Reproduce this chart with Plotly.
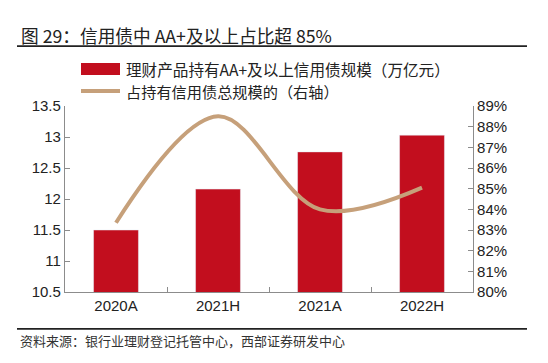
import plotly.graph_objects as go

categories = ["2020A", "2021H", "2021A", "2022H"]
scale_values = [11.5, 12.16, 12.76, 13.03]          # 万亿元
share_values = [83.35, 88.5, 84.0, 85.05]           # %
left_ticks = [10.5, 11, 11.5, 12, 12.5, 13, 13.5]
right_ticks = [80, 81, 82, 83, 84, 85, 86, 87, 88, 89]
right_tick_labels = ["80%", "81%", "82%", "83%", "84%", "85%", "86%", "87%", "88%", "89%"]

title_text = "图 29：信用债中 AA+及以上占比超 85%"
legend_bar = "理财产品持有AA+及以上信用债规模（万亿元）"
legend_line = "占持有信用债总规模的（右轴）"
source_text = "资料来源：银行业理财登记托管中心，西部证券研发中心"

OFF = 8  # page body margin
W, H = 548, 363
L, R, T, B = 65, 473, 106, 292.5

BAR_COLOR = "#C20E1E"
LINE_COLOR = "#C6A07A"
AXIS_COLOR = "#8C8C8C"
FONT = "Liberation Sans, Arial, Noto Sans CJK SC, sans-serif"
CJK = "Noto Sans CJK SC, sans-serif"


def px(x):
    return (x - L) / (R - L)


def py(y):
    return (B - y) / (B - T)


fig = go.Figure()
fig.add_trace(go.Bar(x=categories, y=scale_values, marker_color=BAR_COLOR,
                     width=0.44, showlegend=False, yaxis="y"))
fig.add_trace(go.Scatter(x=categories, y=share_values, mode="lines",
                         line=dict(color=LINE_COLOR, width=4, shape="spline", smoothing=1.0),
                         showlegend=False, yaxis="y2"))

fig.update_layout(
    width=W - OFF, height=H - OFF,
    margin=dict(l=L - OFF, r=W - R, t=T - OFF, b=H - B, autoexpand=False),
    paper_bgcolor="white", plot_bgcolor="white",
    font=dict(family=FONT, size=15, color="#222"),
    xaxis=dict(type="category", showline=True, linecolor=AXIS_COLOR, linewidth=1.2,
               ticks="inside", ticklen=5, tickcolor=AXIS_COLOR, tickson="boundaries",
               showgrid=False, tickfont=dict(size=15, family=FONT, color="#222"),
               range=[-0.5, 3.5]),
    yaxis=dict(range=[10.5, 13.5], tickvals=left_ticks, showline=True, linecolor=AXIS_COLOR,
               linewidth=1.2, ticks="inside", ticklen=5, tickcolor=AXIS_COLOR, showgrid=False,
               zeroline=False, tickfont=dict(size=15, family=FONT, color="#222")),
    yaxis2=dict(range=[80, 89], tickvals=right_ticks, ticktext=right_tick_labels,
                overlaying="y", side="right", showline=True, linecolor=AXIS_COLOR,
                linewidth=1.2, ticks="inside", ticklen=5, tickcolor=AXIS_COLOR,
                showgrid=False, zeroline=False,
                tickfont=dict(size=15, family=FONT, color="#222")),
    bargap=0.56,
)

shapes = []
annotations = []
# title and rules
annotations.append(dict(text=title_text, xref="paper", yref="paper", x=px(19), y=py(35),
                        xanchor="left", yanchor="middle", showarrow=False,
                        font=dict(size=17.7, family=CJK, color="#222")))
shapes.append(dict(type="line", xref="paper", yref="paper", x0=px(17), x1=px(527),
                   y0=py(46), y1=py(46), line=dict(color="#222", width=1.6)))
shapes.append(dict(type="line", xref="paper", yref="paper", x0=px(17), x1=px(527),
                   y0=py(329.5), y1=py(329.5), line=dict(color="#222", width=1.6)))
annotations.append(dict(text=source_text, xref="paper", yref="paper", x=px(18), y=py(341),
                        xanchor="left", yanchor="middle", showarrow=False,
                        font=dict(size=13, family=CJK, color="#333")))
# legend
shapes.append(dict(type="rect", xref="paper", yref="paper", x0=px(81), x1=px(120),
                   y0=py(75), y1=py(63), fillcolor=BAR_COLOR, line=dict(width=0)))
annotations.append(dict(text=legend_bar, xref="paper", yref="paper", x=px(124), y=py(69),
                        xanchor="left", yanchor="middle", showarrow=False,
                        font=dict(size=15.6, family=CJK, color="#222")))
shapes.append(dict(type="line", xref="paper", yref="paper", x0=px(81), x1=px(120),
                   y0=py(91), y1=py(91), line=dict(color=LINE_COLOR, width=4)))
annotations.append(dict(text=legend_line, xref="paper", yref="paper", x=px(124), y=py(91),
                        xanchor="left", yanchor="middle", showarrow=False,
                        font=dict(size=15.2, family=CJK, color="#222")))

fig.update_layout(shapes=shapes, annotations=annotations)
fig.write_html("out.html")
